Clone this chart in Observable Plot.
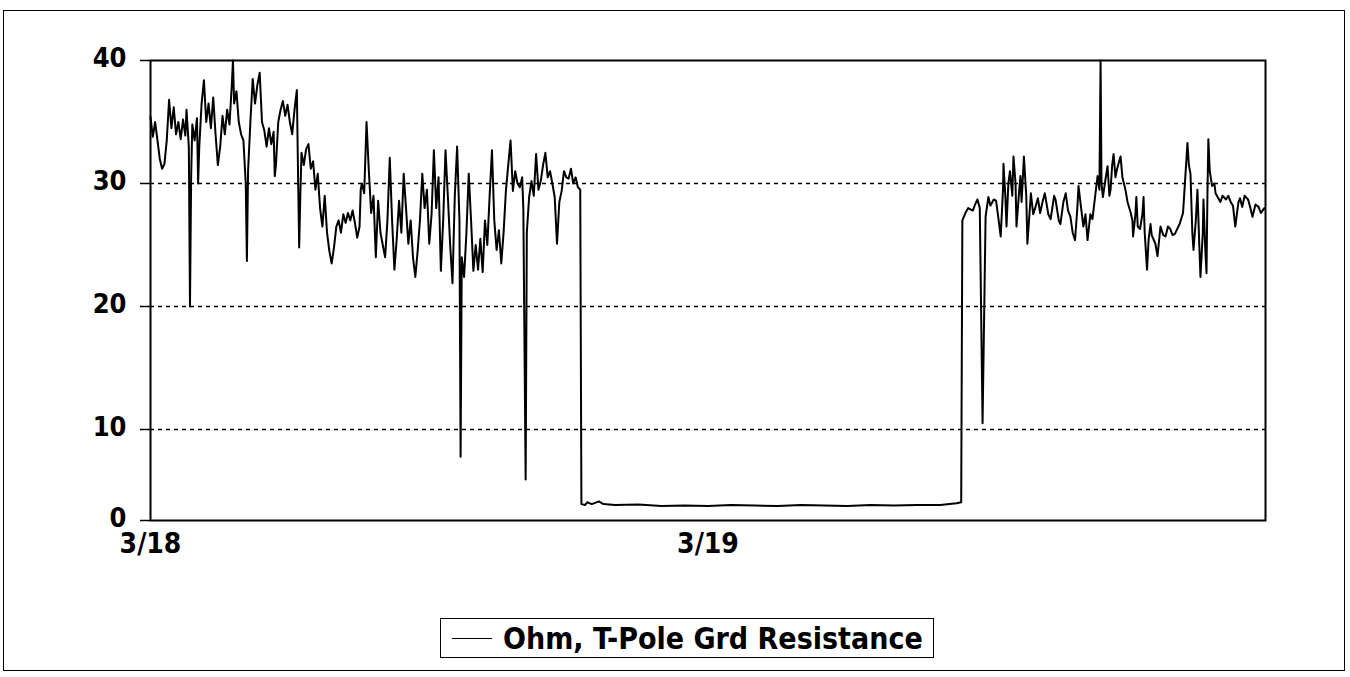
<!DOCTYPE html>
<html>
<head>
<meta charset="utf-8">
<script src="https://cdn.jsdelivr.net/npm/d3@7"></script>
<script src="https://cdn.jsdelivr.net/npm/@observablehq/plot@0.6"></script>
<style>
  html, body { margin: 0; padding: 0; background: #fff; }
  #page { position: relative; width: 1350px; height: 677px; overflow: hidden; }
  #outer { position: absolute; left: 3px; top: 10px; width: 1342px; height: 661px; border: 1px solid #000; box-sizing: border-box; }
  #chart { position: absolute; left: 0; top: 0; }
  #legend { position: absolute; left: 440px; top: 618px; height: 40px; border: 1.5px solid #000; box-sizing: border-box;
    display: flex; align-items: center; padding: 0 10px 0 11px; background: #fff;
    font-family: "Liberation Sans Narrow", "Arial Narrow", "DejaVu Sans Condensed", sans-serif; font-stretch: condensed;
    font-weight: bold; font-size: 30px; color: #000; }
  #legend .sw { display: inline-block; width: 40px; height: 0; border-top: 1.5px solid #000; margin-right: 11px; }
</style>
</head>
<body>
<div id="page">
  <div id="outer"></div>
  <div id="chart"></div>
  <div id="legend"><span class="sw"></span><span id="legendText"></span></div>
</div>
<script>
// Hours since 3/18 00:00 and measured resistance (ohm)
const seriesName = "Ohm, T-Pole Grd Resistance";
const hours = [
 0.0,0.1,0.2,0.3,0.4,0.5,0.6,0.7,0.8,0.9,1.0,1.1,1.2,1.3,1.4,1.5,1.55,1.65,1.7,1.75,1.8,1.9,2.0,2.05,2.1,2.2,2.3,2.4,2.5,2.6,2.7,2.8,2.9,3.0,3.1,3.2,3.3,3.4,3.5,3.55,3.6,3.7,3.8,3.9,4.0,4.1,4.15,4.2,4.3,4.4,4.5,4.6,4.7,4.8,4.9,5.0,5.1,5.2,5.3,5.35,5.4,5.5,5.6,5.7,5.8,5.9,6.0,6.1,6.2,6.3,6.35,6.4,6.45,6.5,6.6,6.7,6.8,6.9,7.0,7.1,7.2,7.3,7.4,7.5,7.6,7.7,7.8,7.9,8.0,
 8.1,8.2,8.3,8.4,8.5,8.6,8.7,8.8,8.9,9.0,9.05,9.1,9.2,9.3,9.4,9.5,9.6,9.7,9.8,9.9,10.0,10.1,10.2,10.3,10.4,10.5,10.6,10.7,10.8,10.9,11.0,11.1,11.2,11.3,11.4,11.5,11.6,11.7,11.8,11.9,12.0,12.1,12.2,12.3,12.4,12.5,12.6,12.7,12.8,12.9,13.0,13.1,13.2,13.3,13.35,13.4,13.5,13.6,13.7,13.8,13.9,14.0,14.1,14.2,
 14.3,14.4,14.5,14.6,14.7,14.8,14.9,15.0,15.1,15.2,15.3,15.4,15.5,15.6,15.7,15.8,15.9,16.0,16.05,16.15,16.2,16.3,16.4,16.5,16.6,16.7,16.8,16.9,17.0,17.1,17.2,17.3,17.4,17.5,17.6,17.7,17.8,17.9,18.0,18.1,18.2,18.3,18.4,18.5,18.55,
 18.7,18.8,19.0,19.3,19.5,20,21,22,23,24,25,26,27,28,29,30,31,32,33,34,34.7,34.9,
 34.95,35.08,35.2,35.4,35.5,35.6,35.7,35.82,35.95,36.07,36.16,36.3,36.4,36.5,36.6,36.7,36.72,36.8,36.85,36.93,37.0,37.1,37.15,37.24,37.28,37.4,37.45,37.5,37.6,37.7,37.75,37.9,38.0,38.1,38.2,38.3,38.4,38.5,38.65,38.75,38.9,38.96,39.1,39.17,39.3,39.4,39.5,39.6,39.7,39.8,39.9,39.95,40.03,40.16,40.25,40.34,40.46,40.55,40.7,40.77,40.85,40.9,40.94,
 41.0,41.1,41.2,41.28,41.33,41.4,41.46,41.54,41.6,41.7,41.76,41.84,41.97,42.06,42.2,42.27,42.3,42.4,42.44,42.5,42.6,42.7,42.75,42.8,42.9,42.97,43.05,43.1,43.26,43.35,43.48,43.6,43.7,43.8,43.9,44.0,44.1,44.25,44.3,44.45,44.55,44.64,44.7,44.77,44.85,44.9,45.0,45.07,45.15,45.2,45.3,45.33,45.4,45.46,45.5,45.54,45.6,45.7,45.8,45.85,45.97,46.06,46.15,46.3,46.4,46.5,46.6,46.7,46.8,46.84,46.9,47.0,47.1,47.25,47.35,47.44,47.57,47.7,47.8,47.95
];
const ohms = [
 35.4,33.8,35.0,33.5,32.0,31.2,31.6,33.5,36.8,34.5,36.2,34.0,35.0,33.6,35.2,33.9,36.0,33.0,20.0,30.5,34.8,33.5,35.3,30.0,33.0,36.5,38.4,35.0,36.5,34.5,37.0,34.0,31.5,33.0,35.5,34.0,36.0,34.8,38.0,40.0,36.5,37.5,35.0,34.0,33.5,30.0,23.7,31.0,35.0,38.5,36.5,38.0,39.0,35.0,34.3,33.0,34.5,33.2,34.2,30.6,31.5,35.0,36.0,36.7,35.5,36.4,35.0,34.0,36.0,37.6,31.0,24.8,29.0,32.5,31.5,32.8,33.2,31.2,31.8,29.5,30.8,28.0,26.5,29.0,26.0,24.5,23.5,24.8,26.5,
 27.0,26.0,27.5,26.8,27.6,27.0,27.8,26.8,25.6,26.5,29.5,30.0,29.2,35.0,31.0,27.6,29.0,24.0,28.6,26.0,25.0,24.0,27.0,32.1,27.0,23.0,25.5,28.6,26.0,30.8,28.0,25.1,27.0,24.0,22.4,24.5,27.0,30.8,28.0,29.5,25.1,27.5,32.7,28.0,30.5,22.9,27.0,32.7,29.0,25.0,21.9,29.0,33.0,27.0,7.0,24.0,22.4,26.0,30.8,27.0,22.9,25.0,23.0,25.5,
 22.8,27.0,25.0,29.0,32.7,27.0,24.6,26.2,23.5,26.0,29.4,31.5,33.5,29.4,31.0,30.0,29.7,30.5,28.0,4.5,26.0,28.9,30.2,29.0,32.4,29.5,30.2,31.5,32.5,30.5,31.0,30.0,28.9,25.1,28.5,29.4,31.0,30.5,30.4,31.2,30.0,30.5,29.7,29.5,1.8,
 1.7,2.0,1.8,2.1,1.8,1.7,1.75,1.6,1.65,1.6,1.7,1.65,1.6,1.7,1.65,1.6,1.7,1.65,1.7,1.7,1.9,2.0,
 27.0,27.6,28.0,27.8,28.3,28.7,28.0,10.5,27.3,28.9,28.2,28.7,28.6,27.2,25.7,29.5,31.6,29.0,26.5,30.0,31.0,29.0,32.2,30.0,26.5,29.5,30.6,28.5,32.2,29.0,25.1,29.2,27.5,28.1,28.8,27.6,28.5,29.2,27.5,27.1,29.0,28.7,27.0,26.7,28.5,29.2,27.8,27.3,26.0,25.4,28.0,29.8,28.5,26.5,27.5,25.4,27.5,27.1,29.5,30.6,29.5,40.0,30.0,
 28.9,30.2,31.4,29.0,29.5,31.5,32.4,30.5,31.1,31.8,32.2,30.5,29.5,28.5,27.6,27.0,25.7,27.5,28.9,26.5,26.3,27.5,28.9,26.0,23.0,25.5,26.7,25.8,25.1,24.1,26.5,25.8,25.7,26.5,26.3,25.8,25.9,26.5,26.7,27.6,30.6,33.3,31.5,30.8,26.0,24.6,27.0,29.5,25.0,22.4,26.0,28.7,25.0,22.7,29.0,33.6,31.0,29.8,30.0,29.2,28.8,28.5,29.0,28.7,29.0,28.5,28.2,26.5,28.0,28.5,28.8,28.1,29.0,28.7,28.0,27.3,28.3,28.1,27.6,28.0
];
const yTicks = [0, 10, 20, 30, 40];
const gridValues = [10, 20, 30];
const xTickDays = [18, 19];

const t0 = Date.UTC(2000, 2, 18);
const data = hours.map((h, i) => ({t: new Date(t0 + h * 3600e3), v: ohms[i]}));
const xTicks = xTickDays.map(d => new Date(Date.UTC(2000, 2, d)));
const font = '"Liberation Sans Narrow", "Arial Narrow", "DejaVu Sans Condensed", sans-serif';

const chart = Plot.plot({
  width: 1350,
  height: 565,
  marginLeft: 150,
  marginRight: 85,
  marginTop: 60,
  marginBottom: 45,
  style: {fontFamily: font, fontWeight: "bold", fontSize: "27px", color: "#000", background: "transparent", overflow: "visible"},
  x: {type: "utc", domain: [new Date(t0), new Date(Date.UTC(2000, 2, 20))]},
  y: {type: "linear", domain: [0, 10, 40], range: [520, 429, 60], nice: false},
  marks: [
    Plot.ruleY(gridValues, {stroke: "#000", strokeWidth: 1.4, strokeDasharray: "4,4"}),
    Plot.frame({stroke: "#000", strokeWidth: 2}),
    Plot.axisY({ticks: yTicks, tickSize: 10, tickFormat: () => "", label: null, strokeWidth: 1.5}),
    Plot.axisY({ticks: yTicks, tickSize: 0, tickPadding: 24, tickFormat: d => String(d), label: null,
      fontSize: 27, fontWeight: "bold", dy: -2}),
    Plot.axisX({ticks: xTicks, tickSize: 0, tickPadding: 13, label: null,
      tickFormat: d => `${d.getUTCMonth() + 1}/${d.getUTCDate()}`, fontSize: 28, fontWeight: "bold"}),
    Plot.lineY(data, {x: "t", y: "v", stroke: "#000", strokeWidth: 2, curve: "linear"})
  ]
});
document.getElementById("chart").appendChild(chart);
document.getElementById("legendText").textContent = seriesName;
</script>
</body>
</html>
